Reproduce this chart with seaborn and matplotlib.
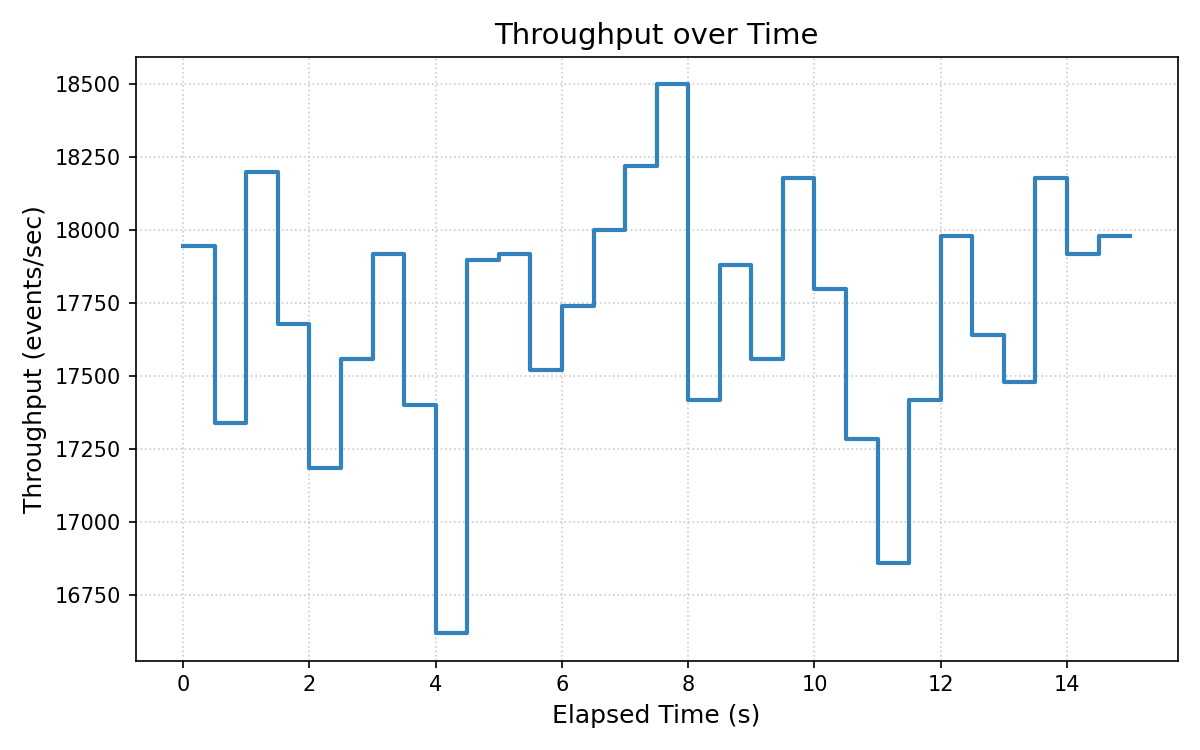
import matplotlib
matplotlib.use("Agg")
import matplotlib.pyplot as plt
import seaborn as sns
import pandas as pd

time_s = [0.0, 0.5, 1.0, 1.5, 2.0, 2.5, 3.0, 3.5, 4.0, 4.5, 5.0, 5.5, 6.0, 6.5, 7.0, 7.5,
          8.0, 8.5, 9.0, 9.5, 10.0, 10.5, 11.0, 11.5, 12.0, 12.5, 13.0, 13.5, 14.0, 14.5, 15.0]
throughput = [17945, 17340, 18200, 17680, 17185, 17560, 17920, 17400, 16620, 17900, 17920,
              17520, 17740, 18000, 18220, 18500, 17420, 17880, 17560, 18180, 17800, 17285,
              16860, 17420, 17980, 17640, 17480, 18180, 17920, 17980, 17980]

df = pd.DataFrame({"t": time_s, "v": throughput})

plt.rcParams['font.family'] = ['DejaVu Sans']
fig, ax = plt.subplots(figsize=(8, 5), dpi=150)
sns.lineplot(data=df, x="t", y="v", ax=ax, drawstyle="steps-post",
             color="#3182bd", linewidth=2)
ax.grid(True, linestyle=":", color="#cccccc", linewidth=0.8)
ax.set_axisbelow(True)
ax.set_title("Throughput over Time", fontsize=14)
ax.set_xlabel("Elapsed Time (s)", fontsize=12)
ax.set_ylabel("Throughput (events/sec)", fontsize=12)
ax.tick_params(labelsize=10)
fig.tight_layout()
fig.savefig("out.png", dpi=150)
